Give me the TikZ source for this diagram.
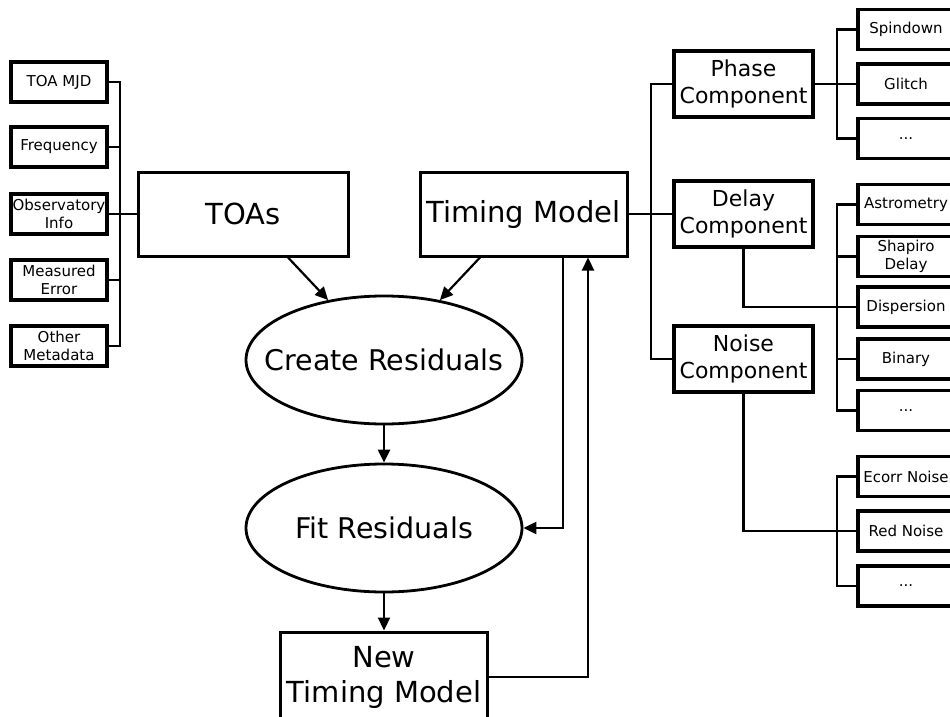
\documentclass[tikz,border=0pt]{standalone}
\usepackage{fontspec}
\setmainfont{DejaVu Sans}
\usetikzlibrary{arrows.meta,shapes.geometric}
\begin{document}
\begin{tikzpicture}[x=1pt,y=-1pt,
  box/.style={draw, line width=3.5pt, inner sep=0pt, align=center},
  smallbox/.style={box, minimum width=96pt, minimum height=40pt, font=\fontsize{15}{18}\selectfont},
  bigbox/.style={box, line width=3pt, minimum width=207pt, minimum height=84pt, font=\fontsize{29}{35}\selectfont},
  compbox/.style={box, minimum width=139pt, minimum height=66pt, font=\fontsize{22}{27}\selectfont},
  oval/.style={ellipse, draw, line width=2.8pt, minimum width=276pt, minimum height=128pt, inner sep=0pt},
  ovaltext/.style={font=\fontsize{28.5}{34}\selectfont},
  conn/.style={line width=2.2pt},
  arr/.style={conn, -{Triangle[length=13pt,width=12pt]}}]
\useasboundingbox (0,0) rectangle (950,717);
\clip (0,0) rectangle (950,717);
% left data boxes
\node[smallbox] (toamjd) at (59,82) {TOA MJD};
\node[smallbox] (freq) at (59,147) {Frequency};
\node[smallbox] (obs) at (59,214) {Observatory\\Info};
\node[smallbox] (meas) at (59,280) {Measured\\Error};
\node[smallbox] (other) at (59,346) {Other\\Metadata};
% main flow
\node[bigbox, minimum width=210pt] (toas) at (243,214) {TOAs};
\node[bigbox] (tm) at (523.5,214) {Timing Model};
\node[oval, label={[ovaltext]center:Create Residuals}] (create) at (384,360) {};
\node[oval, label={[ovaltext]center:Fit Residuals}] (fit) at (384,528) {};
\node[bigbox, minimum height=90pt] (ntm) at (384,677) {New\\Timing Model};
% components
\node[compbox] (phase) at (743.5,84) {Phase\\Component};
\node[compbox] (delay) at (743.5,214) {Delay\\Component};
\node[compbox] (noise) at (743.5,359) {Noise\\Component};
% sub-components
\node[smallbox] (spin) at (906,29.5) {Spindown};
\node[smallbox] (glitch) at (906,84) {Glitch};
\node[smallbox] (pdots) at (906,138.5) {...};
\node[smallbox] (astro) at (906,204.5) {Astrometry};
\node[smallbox] (shap) at (906,256.5) {Shapiro\\Delay};
\node[smallbox] (disp) at (906,307) {Dispersion};
\node[smallbox] (bin) at (906,359) {Binary};
\node[smallbox] (ddots) at (906,410.5) {...};
\node[smallbox] (ecorr) at (906,476.5) {Ecorr Noise};
\node[smallbox] (red) at (906,531) {Red Noise};
\node[smallbox] (ndots) at (906,586) {...};
% bus coordinates
\coordinate (lb) at (120,0);
\coordinate (rb) at (651,0);
\coordinate (sb) at (837,0);
\coordinate (c1) at (563,528);
\coordinate (c2) at (588,0);
% left bus
\draw[conn] (toamjd.east) -- (toamjd.east -| lb) -- (other.east -| lb) -- (other.east);
\draw[conn] (freq.east) -- (freq.east -| lb);
\draw[conn] (meas.east) -- (meas.east -| lb);
\draw[conn] (obs.east) -- (toas.west);
% timing model to components
\draw[conn] (tm.east) -- (delay.west);
\draw[conn] (phase.west) -- (phase.west -| rb) -- (noise.west -| rb) -- (noise.west);
% phase subcomponents
\draw[conn] (spin.west) -- (spin.west -| sb) -- (pdots.west -| sb) -- (pdots.west);
\draw[conn] (phase.east) -- (glitch.west);
% delay subcomponents
\draw[conn] (astro.west) -- (astro.west -| sb) -- (ddots.west -| sb) -- (ddots.west);
\draw[conn] (shap.west) -- (shap.west -| sb);
\draw[conn] (bin.west) -- (bin.west -| sb);
\draw[conn] (delay.south) |- (disp.west);
% noise subcomponents
\draw[conn] (ecorr.west) -- (ecorr.west -| sb) -- (ndots.west -| sb) -- (ndots.west);
\draw[conn] (noise.south) |- (red.west);
% flow arrows
\draw[arr] (toas.-44) -- (create.133);
\draw[arr] (tm.-135) -- (create.47);
\draw[arr] (create.south) -- (fit.north);
\draw[arr] (fit.south) -- (ntm.north);
\draw[arr] (tm.south -| c1) -- (c1) -- (fit.east);
\draw[arr] (ntm.east) -| (c2 |- tm.south);
\end{tikzpicture}
\end{document}
